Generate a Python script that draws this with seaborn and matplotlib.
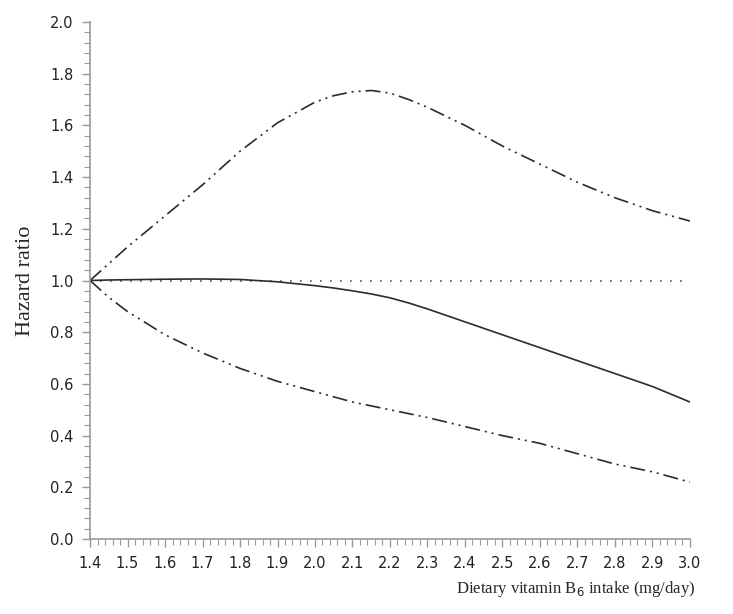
import numpy as np
import pandas as pd
import matplotlib
matplotlib.use("Agg")
import matplotlib.pyplot as plt
from matplotlib.ticker import MultipleLocator
import seaborn as sns

# values
intake = [1.4, 1.45, 1.5, 1.6, 1.7, 1.8, 1.9, 2.0, 2.05, 2.1, 2.15, 2.2, 2.25, 2.3, 2.4, 2.5, 2.6, 2.7, 2.8, 2.9, 3.0]
hr = [1.0, 1.002, 1.003, 1.005, 1.006, 1.004, 0.995, 0.98, 0.971, 0.96, 0.948, 0.933, 0.913, 0.89, 0.84, 0.79, 0.74, 0.69, 0.64, 0.59, 0.53]
upper = [1.0, 1.065, 1.13, 1.25, 1.37, 1.50, 1.61, 1.69, 1.715, 1.73, 1.735, 1.725, 1.70, 1.67, 1.60, 1.52, 1.45, 1.38, 1.32, 1.27, 1.23]
lower = [1.0, 0.935, 0.88, 0.79, 0.72, 0.66, 0.61, 0.57, 0.55, 0.53, 0.515, 0.50, 0.485, 0.47, 0.435, 0.40, 0.37, 0.33, 0.29, 0.26, 0.22]

df = pd.DataFrame({"intake": intake, "hr": hr, "upper": upper, "lower": lower})

sns.set_style("ticks")
plt.rcParams["font.family"] = ["DejaVu Sans"]
plt.rcParams["font.sans-serif"] = ["DejaVu Sans"]

fig = plt.figure(figsize=(7.33, 6.14), dpi=100)
ax = fig.add_axes([0.1228, 0.1221, 0.8185, 0.8421])

line_col = "#2b2b2b"
dashdot2 = (0, (9, 3, 1.2, 3, 1.2, 3))

ax.axhline(1.0, color="#555555", lw=1.2, ls=(0, (1, 5)))
sns.lineplot(data=df, x="intake", y="hr", ax=ax, color=line_col, lw=1.2)
sns.lineplot(data=df, x="intake", y="upper", ax=ax, color=line_col, lw=1.2, ls=dashdot2)
sns.lineplot(data=df, x="intake", y="lower", ax=ax, color=line_col, lw=1.2, ls=dashdot2)

ax.set_xlim(1.4, 3.0)
ax.set_ylim(0.0, 2.0)
ax.xaxis.set_major_locator(MultipleLocator(0.1))
ax.xaxis.set_minor_locator(MultipleLocator(0.02))
ax.yaxis.set_major_locator(MultipleLocator(0.2))
ax.yaxis.set_minor_locator(MultipleLocator(0.04))
ax.xaxis.set_major_formatter(plt.FormatStrFormatter("%.1f"))
ax.yaxis.set_major_formatter(plt.FormatStrFormatter("%.1f"))

sns.despine(ax=ax)
for side in ["left", "bottom"]:
    ax.spines[side].set_color("#9a9a9a")
    ax.spines[side].set_linewidth(1.2)
ax.tick_params(which="major", length=6, width=1.0, color="#9a9a9a", labelsize=10.5, labelcolor="#222222", pad=6)
ax.tick_params(which="minor", length=4, width=0.8, color="#9a9a9a")
for lab in ax.get_xticklabels() + ax.get_yticklabels():
    lab.set_family("DejaVu Sans")

ax.set_xlabel("")
ax.set_ylabel("Hazard ratio", family="Liberation Serif", fontsize=16)
ax.yaxis.set_label_coords(-0.092, 0.5)
fig.text(0.948, 0.024, "Dietary vitamin B$_6$ intake (mg/day)", ha="right", va="bottom",
         family="Liberation Serif", fontsize=12)

fig.savefig("out.png", dpi=100)
